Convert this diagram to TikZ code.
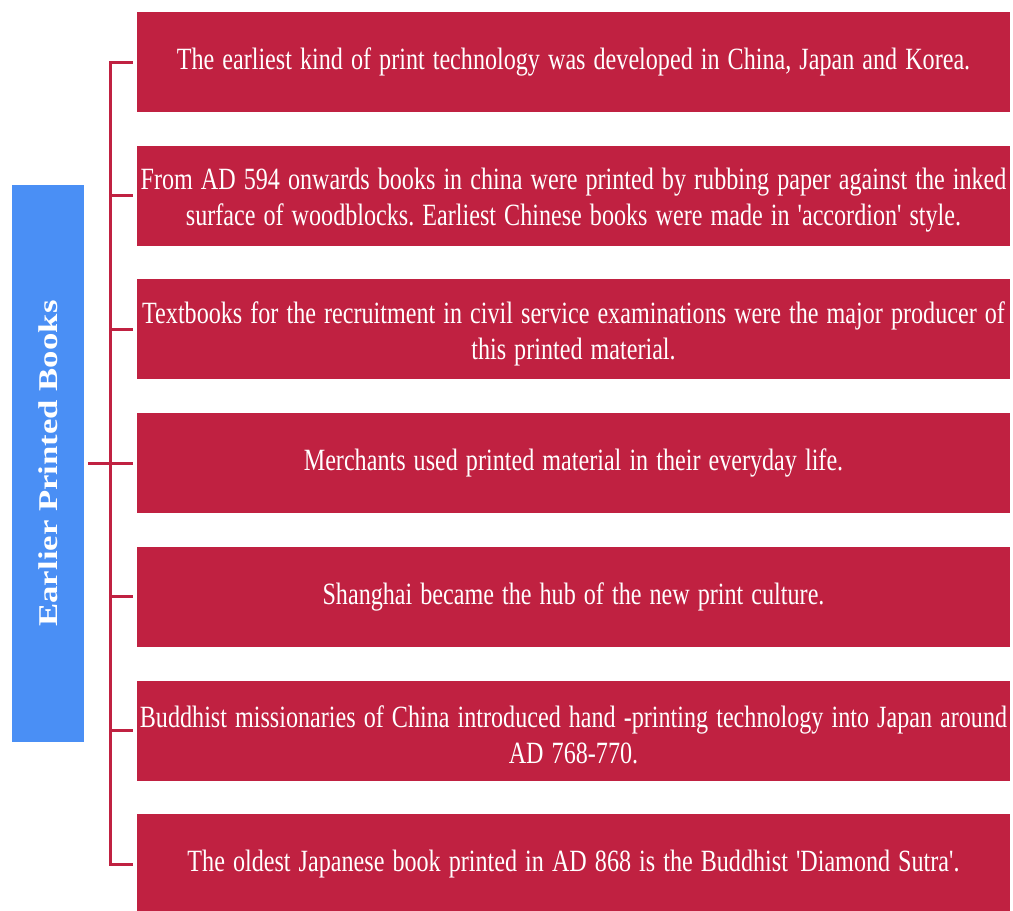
\documentclass[tikz,border=0pt]{standalone}
\usepackage{fontspec}
\usepackage{xcolor}
\usepackage{tikz}
\usetikzlibrary{positioning}
\setmainfont{Liberation Serif}
\definecolor{crimsonbox}{RGB}{192,33,65}
\definecolor{titleblue}{RGB}{74,143,245}
\frenchspacing

\begin{document}
\begin{tikzpicture}[x=0.025cm,y=-0.025cm,node distance=0.842cm,
   point/.style={rectangle,fill=crimsonbox,inner sep=0pt,outer sep=0pt,
      minimum width=21.825cm,minimum height=2.5cm},
   pointtext/.style={xscale=0.78,transform shape,text=white,inner sep=0pt,
      text width=27.9cm,align=center,font=\fontsize{22}{25.6}\selectfont},
   twoline/.style={pointtext,yshift=-0.1cm},
   title/.style={rectangle,fill=titleblue,inner sep=0pt,outer sep=0pt,
      minimum width=1.8cm,minimum height=13.925cm},
   link/.style={draw=crimsonbox,line width=0.075cm,line join=miter}]

  \useasboundingbox (0,0) rectangle (1013,910);

  \node[title] (t) at (48,463.5) {};
  \node[rotate=90,text=white,font=\bfseries\fontsize{24.7}{28}\selectfont] (tl) at (t.center)
     {\scalebox{1}[0.78]{Earlier Printed Books}};

  \node[point] (b1) at (573.5,62) {};
  \node[point] (b2) [below=of b1] {};
  \node[point] (b3) [below=of b2] {};
  \node[point] (b4) [below=of b3] {};
  \node[point] (b5) [below=of b4] {};
  \node[point] (b6) [below=of b5] {};
  \node[point] (b7) [below=of b6] {};

  \node[pointtext] (p1) at (b1) {The earliest kind of print technology was developed in China, Japan and Korea.};
  \node[twoline] (p2) at (b2) {From AD 594 onwards books in china were printed by rubbing paper against the inked\\
     surface of woodblocks. Earliest Chinese books were made in \textquotesingle accordion\textquotesingle\ style.};
  \node[twoline] (p3) at (b3) {Textbooks for the recruitment in civil service examinations were the major producer of\\
     this printed material.};
  \node[pointtext] (p4) at (b4) {Merchants used printed material in their everyday life.};
  \node[pointtext] (p5) at (b5) {Shanghai became the hub of the new print culture.};
  \node[twoline] (p6) at (b6) {Buddhist missionaries of China introduced hand -printing technology into Japan around\\
     AD 768-770.};
  \node[pointtext] (p7) at (b7) {The oldest Japanese book printed in AD 868 is the Buddhist \textquotesingle Diamond Sutra\textquotesingle.};

  \draw[link] ([xshift=-0.1cm]b1.west) -- ([xshift=-0.65cm]b1.west)
     -- ([xshift=-0.65cm]b7.west) -- ([xshift=-0.1cm]b7.west);
  \foreach \k in {2,3,5,6} \draw[link] ([xshift=-0.65cm]b\k.west) -- ([xshift=-0.1cm]b\k.west);
  \draw[link] ([xshift=0.1cm]b4.west -| t.east) -- ([xshift=-0.1cm]b4.west);
\end{tikzpicture}
\end{document}
